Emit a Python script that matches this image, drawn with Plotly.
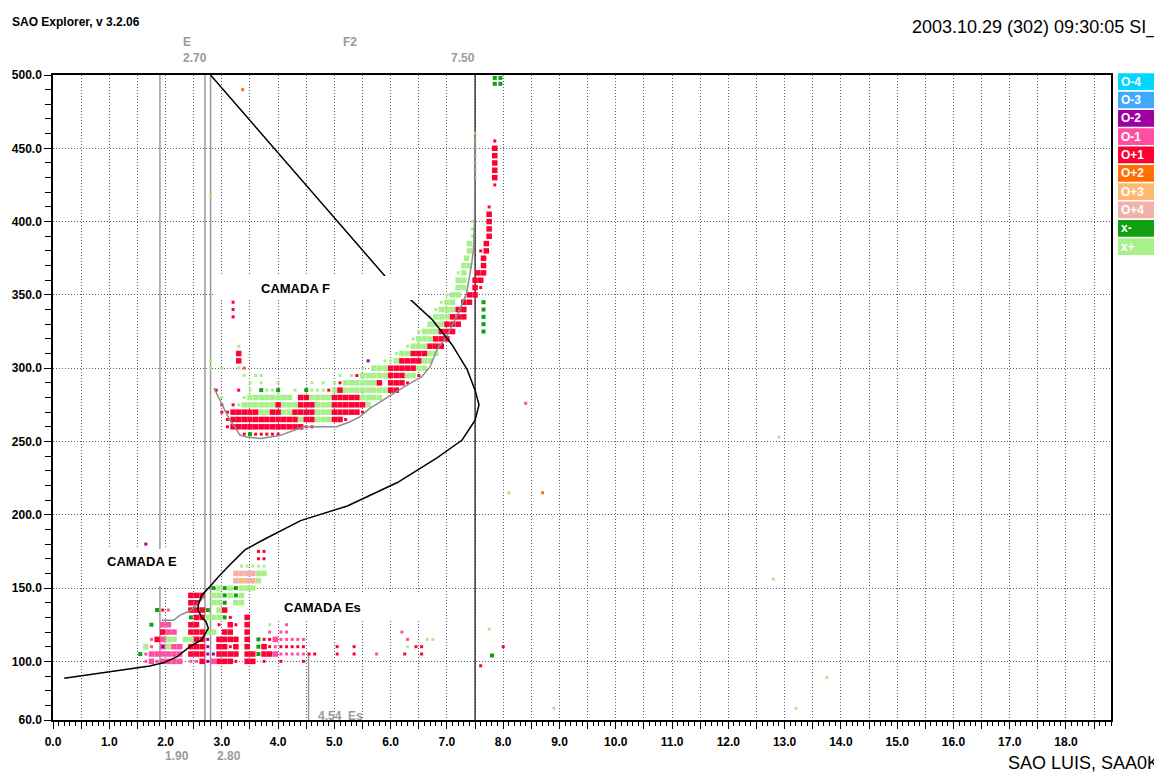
import plotly.graph_objects as go

# ---------------- axes / ticks ----------------
X_RANGE = [0.0, 18.8]
Y_RANGE = [60.0, 500.0]
X_LABELLED = [0.0, 1.0, 2.0, 3.0, 4.0, 5.0, 6.0, 7.0, 8.0, 9.0, 10.0, 11.0, 12.0, 13.0, 14.0, 15.0, 16.0, 17.0, 18.0]
X_HALVES = [0.5, 1.5, 2.5, 3.5, 4.5, 5.5, 6.5, 7.5, 8.5, 9.5, 10.5, 11.5, 12.5, 13.5, 14.5, 15.5, 16.5, 17.5, 18.5]
Y_TICKS = [60, 100, 150, 200, 250, 300, 350, 400, 450, 500]
Y_TICK_LABELS = ["60.0", "100.0", "150.0", "200.0", "250.0", "300.0", "350.0", "400.0", "450.0", "500.0"]

# ---------------- scaled parameters ----------------
GRAY_LINE_FREQS = [1.90, 2.70, 2.80]
BLACK_LINE_FREQS = [7.50]
MARK_FREQS = [1.90, 2.70, 2.80, 7.50]
ES_FREQ = 4.54
ES_LINE_TOP = 106

# ---------------- true-height profile (black) ----------------
PROFILE_F = [0.20, 1.00, 1.72, 1.96, 2.20, 2.43, 2.64, 2.76, 2.72, 2.64, 2.58, 2.58, 2.64, 2.79, 2.94, 3.14,
             3.41, 3.73, 4.00, 4.40, 5.23, 6.12, 6.83, 7.27, 7.50, 7.57, 7.50, 7.36, 7.09, 6.74, 6.29, 5.94, 2.80]
PROFILE_H = [88.5, 93.0, 96.8, 99.0, 103.0, 110.0, 114.6, 122.7, 127.0, 130.0, 135.0, 138.4, 145.0, 151.0, 157.7, 165.7,
             176.0, 182.8, 188.0, 196.0, 206.0, 222.0, 239.0, 251.0, 264.6, 275.0, 285.0, 299.0, 316.0, 333.0, 349.0, 361.0, 500.0]

# ---------------- scaled traces (gray) ----------------
FTRACE_F = [2.86, 2.97, 3.05, 3.14, 3.23, 3.32, 3.44, 3.69, 4.03, 4.45, 4.56, 5.04, 5.28, 5.45, 5.63, 6.04, 6.34,
            6.55, 6.70, 6.82, 6.99, 7.17, 7.35, 7.44, 7.47, 7.49, 7.50]
FTRACE_H = [286.5, 278.0, 271.5, 264.6, 260.0, 254.4, 253.0, 252.0, 254.0, 260.0, 260.0, 260.0, 263.5, 266.8, 272.6,
            282.7, 289.7, 294.0, 301.0, 312.4, 321.5, 335.0, 351.0, 371.5, 380.6, 401.0, 460.0]
ETRACE_F = [1.93, 2.14, 2.26, 2.46, 2.58, 2.70]
ETRACE_H = [128.0, 128.0, 131.6, 135.0, 139.6, 145.0]

# ---------------- echoes: (virtual height km, [frequencies MHz]) ----------------
RED_BIG = [
    (260, [3.2, 3.3, 3.4, 3.5, 3.6, 3.7, 3.8, 3.9, 4.0, 4.1, 4.2, 4.3, 4.4]),
    (265, [3.2, 3.3, 3.4, 3.5, 3.6, 3.7, 3.8, 3.9, 4.0, 4.1, 4.2, 4.3, 4.5, 4.6, 5.0, 5.1]),
    (270, [3.2, 3.3, 3.4, 3.5, 3.6, 3.9, 4.0, 4.3, 4.4, 4.5, 4.6, 5.0, 5.1, 5.2, 5.3, 5.4]),
    (275, [4.0, 4.4, 4.5, 4.6, 5.0, 5.1, 5.2, 5.3, 5.4, 5.5]),
    (280, [4.4, 4.5, 5.0, 5.1, 5.2, 5.3, 5.4]),
    (285, [5.1, 6.0, 6.1]),
    (290, [5.8, 6.0, 6.1, 6.2]),
    (295, [6.0, 6.1, 6.2]),
    (300, [6.0, 6.1, 6.2, 6.3, 6.4]),
    (305, [3.3, 6.2, 6.3, 6.4, 6.5]),
    (310, [3.3, 6.4, 6.5, 6.6]),
    (315, [6.7, 6.8, 6.9]),
    (320, [6.8, 6.9, 7.0]),
    (325, [6.9, 7.0, 7.1]),
    (330, [7.0, 7.1, 7.2]),
    (335, [7.1, 7.2, 7.3]),
    (340, [7.2, 7.3]),
    (345, [7.3, 7.4]),
    (350, [7.4, 7.5]),
    (355, [7.5]),
    (360, [7.5, 7.6]),
    (365, [7.55, 7.65]),
    (370, [7.65]),
    (375, [7.65]),
    (380, [7.7]),
    (385, [7.7]),
    (390, [7.75]),
    (395, [7.75]),
    (400, [7.75]),
    (405, [7.75]),
    (430, [7.85]), (435, [7.85]), (440, [7.85]), (445, [7.85]), (450, [7.85]),
    (100, [2.65, 2.95, 3.05, 3.15, 3.45, 3.55]),
    (105, [2.45, 2.55, 2.65, 2.95, 3.05, 3.15, 3.25, 3.45, 3.55, 3.75, 3.85]),
    (110, [2.45, 2.55, 2.65, 2.95, 3.05, 3.25, 3.45, 3.75]),
    (115, [1.85, 2.55, 2.65, 2.95, 3.05, 3.15, 3.25, 3.45]),
    (120, [1.95, 2.45, 2.55, 2.65, 3.05, 3.15, 3.45]),
    (125, [2.45, 2.55, 3.15, 3.45]),
    (130, [2.55, 2.65, 3.45]),
    (135, [2.45, 2.55, 2.65, 3.05]),
    (140, [2.45, 2.55]),
    (145, [2.45, 2.55, 2.65]),
]
RED_SMALL = [
    (255, [3.4, 3.6, 3.7, 3.8, 3.9, 4.0]),
    (260, [3.1, 4.5, 4.6]),
    (265, [3.1, 5.2]),
    (270, [3.0, 3.1, 5.5]),
    (275, [3.0, 3.2]),
    (285, [2.9, 3.3, 4.9]),
    (290, [5.1, 6.3]),
    (295, [5.4, 6.5]),
    (335, [3.2]), (340, [3.2]), (345, [3.2]),
    (355, [7.6]), (380, [7.6]), (410, [7.75]), (425, [7.85]), (455, [7.85]),
    (100, [3.25, 3.75, 4.05, 4.45]),
    (105, [4.55, 4.65, 5.05, 5.35, 6.25, 6.55]),
    (110, [3.15, 3.85, 4.05, 4.15, 4.25, 4.35, 4.45, 5.05, 5.35, 6.45, 6.55, 8.0]),
    (115, [3.75, 3.85]),
    (125, [2.95, 3.25]),
    (130, [3.15]),
    (135, [1.95]),
    (170, [3.65, 3.75]), (175, [3.65, 3.75]),
    (97, [7.6]),
]
LGREEN_BIG = [
    (265, [4.4, 4.7, 4.8, 4.9]),
    (270, [3.7, 3.8, 4.1, 4.2, 4.7, 4.8, 4.9]),
    (275, [3.4, 3.5, 3.6, 3.7, 3.8, 3.9, 4.1, 4.2, 4.3, 4.7, 4.8, 4.9, 5.6]),
    (280, [3.5, 3.6, 3.7, 3.8, 3.9, 4.0, 4.1, 4.2, 4.6, 4.7, 4.8, 4.9, 5.5, 5.6, 5.7, 5.8]),
    (285, [5.0, 5.2, 5.3, 5.4, 5.5, 5.6, 5.7, 5.8, 5.9]),
    (290, [5.2, 5.3, 5.4, 5.5, 5.6, 5.7]),
    (295, [5.5, 5.6, 5.7, 5.8, 5.9, 6.3, 6.4]),
    (300, [5.7, 5.8, 5.9, 6.5, 6.6]),
    (305, [6.1, 6.6, 6.7]),
    (310, [6.2, 6.3, 6.7, 6.8]),
    (315, [6.4, 6.5, 6.6]),
    (320, [6.5, 6.6, 6.7]),
    (325, [6.6, 6.7, 6.8]),
    (330, [6.7, 6.8, 6.9]),
    (335, [6.8, 6.9, 7.0]),
    (340, [6.9, 7.0, 7.1]),
    (345, [7.0, 7.1]),
    (350, [7.1, 7.2]),
    (355, [7.2, 7.3]),
    (360, [7.2, 7.3]),
    (365, [7.3]),
    (370, [7.3, 7.4]),
    (375, [7.35]),
    (380, [7.4]),
    (385, [7.4]),
    (110, [1.65, 2.05]),
    (115, [2.05, 2.15, 2.35, 2.45]),
    (120, [2.75, 2.85]),
    (130, [2.75, 2.85, 2.95]),
    (135, [2.95]),
    (140, [2.85, 2.95, 3.25, 3.35]),
    (145, [2.85, 2.95, 3.15, 3.35]),
    (150, [2.95, 3.15, 3.35, 3.45, 3.55]),
    (155, [3.65]),
    (160, [3.65, 3.75]),
]
LGREEN_SMALL = [
    (275, [3.3]),
    (280, [3.0, 3.4]),
    (285, [3.5, 3.8, 3.9, 4.3, 4.6, 4.7, 4.8]),
    (290, [3.5, 3.7, 4.0, 4.6, 4.8, 5.0]),
    (295, [3.4, 3.6, 3.7, 5.1, 5.3]),
    (300, [2.8, 3.0, 3.3, 5.5]),
    (305, [2.8, 5.9, 6.0]),
    (310, [6.1]),
    (315, [3.3, 6.3]),
    (320, [6.4]), (325, [6.5]), (335, [6.7]), (340, [6.8]), (345, [6.9]), (350, [7.0]), (365, [7.2]),
    (390, [7.45]), (395, [7.45]), (400, [7.45]),
    (430, [7.5]), (435, [7.5]), (440, [7.5]), (445, [7.5]), (450, [7.5]), (455, [7.5]), (460, [7.5]),
    (165, [3.35, 3.45, 3.55, 3.65, 3.75]),
    (110, [6.3]), (115, [6.65, 6.75]), (125, [3.85]), (122, [7.75]),
    (156, [12.8]), (89, [13.75]), (68, [13.2, 8.9]), (215, [8.1]), (253, [12.9]), (418, [2.8]),
]
DGREEN = [
    (255, [3.5]),
    (285, [3.7, 4.0, 4.5]),
    (325, [7.65]), (330, [7.65]), (335, [7.65]), (340, [7.65]), (345, [7.65]),
    (494, [7.85, 7.95]), (498, [7.85, 7.95]),
    (105, [1.55, 3.65]),
    (110, [3.65]),
    (115, [3.65]),
    (125, [1.75]),
    (130, [2.45, 3.05]),
    (135, [1.85, 2.75]),
    (140, [3.05]),
    (145, [3.05, 3.25]),
    (150, [2.85, 3.05, 3.25]),
    (104, [7.8]),
]
PINK_BIG = [
    (100, [1.75, 1.95, 2.05, 2.15, 2.25, 2.85]),
    (105, [1.75, 1.85, 1.95, 2.05, 2.15, 2.25, 3.95]),
    (110, [1.95, 2.15, 2.25]),
    (115, [1.95, 3.95]),
    (120, [2.05, 2.15]),
    (125, [1.95, 2.05]),
]
PINK_SMALL = [
    (100, [1.65, 1.85, 2.45, 2.55]),
    (105, [1.65, 4.05, 4.15, 4.25, 4.35, 4.45, 5.75]),
    (110, [1.75, 3.95]),
    (115, [1.75, 4.05, 4.15, 4.25, 4.35, 4.45, 6.3]),
    (120, [3.85, 4.05, 4.15, 6.2]),
    (125, [4.15]),
    (135, [2.05]),
    (276, [8.4]),
]
PURPLE = [
    (100, [2.75]), (105, [2.75, 2.85]), (110, [1.95, 2.75]), (115, [2.75]),
    (180, [1.65]), (305, [5.6]),
]
SALMON = [
    (155, [3.25, 3.45, 3.55]),
    (160, [3.25, 3.35, 3.45, 3.55]),
]
LORANGE = [(155, [3.35])]
ORANGE = [(300, [3.4]), (215, [8.7]), (490, [3.37])]

LEGEND_LABELS = ["O-4", "O-3", "O-2", "O-1", "O+1", "O+2", "O+3", "O+4", "x-", "x+"]
LEGEND_COLORS = ["#00D8FF", "#40A8FF", "#A000A0", "#FF4FA0", "#FF0033", "#FF7000",
                 "#FFB870", "#F2B2AA", "#10A010", "#A8F08C"]
C = dict(zip(LEGEND_LABELS, LEGEND_COLORS))

FONT = "Liberation Sans, Arial, sans-serif"
GRAY = "#9a9a9a"

# ---------------- layout geometry (pixels; page has an 8px body margin) ----------------
OFF = 8
W, H = 1162 - OFF, 774 - OFF
ML, MR, MT, MB = 53 - OFF, 51, 75 - OFF, 54
PW, PH = W - ML - MR, H - MT - MB


def px_x(px):
    return X_RANGE[0] + (px - OFF - ML) / PW * (X_RANGE[1] - X_RANGE[0])


def px_y(py):
    return Y_RANGE[0] + (H - MB - (py - OFF)) / PH * (Y_RANGE[1] - Y_RANGE[0])


def ppx(px):
    return (px - OFF - ML) / PW


def ppy(py):
    return (H - MB - (py - OFF)) / PH


def flat(rows):
    xs, ys = [], []
    for h, fs in rows:
        for f in fs:
            xs.append(f)
            ys.append(h)
    return xs, ys


fig = go.Figure()

# parameter lines
for f in GRAY_LINE_FREQS:
    fig.add_trace(go.Scatter(x=[f, f], y=Y_RANGE, mode="lines",
                             line=dict(color=GRAY, width=1.5), hoverinfo="skip", showlegend=False))
for f in BLACK_LINE_FREQS:
    fig.add_trace(go.Scatter(x=[f, f], y=Y_RANGE, mode="lines",
                             line=dict(color="#202020", width=1.3), hoverinfo="skip", showlegend=False))
fig.add_trace(go.Scatter(x=[ES_FREQ, ES_FREQ], y=[Y_RANGE[0], ES_LINE_TOP], mode="lines",
                         line=dict(color=GRAY, width=1.5), hoverinfo="skip", showlegend=False))

# echoes
series = [
    (LGREEN_BIG, C["x+"], 5.5), (LGREEN_SMALL, C["x+"], 3),
    (RED_BIG, C["O+1"], 5.5), (RED_SMALL, C["O+1"], 3),
    (PINK_BIG, C["O-1"], 5.5), (PINK_SMALL, C["O-1"], 3),
    (DGREEN, C["x-"], 4), (PURPLE, C["O-2"], 3),
    (SALMON, C["O+4"], 5.5), (LORANGE, C["O+3"], 5.5), (ORANGE, C["O+2"], 3),
]
for rows, col, sz in series:
    xs, ys = flat(rows)
    fig.add_trace(go.Scatter(x=xs, y=ys, mode="markers",
                             marker=dict(symbol="square", size=sz, color=col, line=dict(width=0)),
                             hoverinfo="skip", showlegend=False))

# traces and profile
fig.add_trace(go.Scatter(x=FTRACE_F, y=FTRACE_H, mode="lines", line=dict(color="#8c8c8c", width=1.5),
                         hoverinfo="skip", showlegend=False))
fig.add_trace(go.Scatter(x=ETRACE_F, y=ETRACE_H, mode="lines", line=dict(color="#8c8c8c", width=1.5),
                         hoverinfo="skip", showlegend=False))
fig.add_trace(go.Scatter(x=PROFILE_F, y=PROFILE_H, mode="lines", line=dict(color="black", width=1.5),
                         hoverinfo="skip", showlegend=False))

# end markers of parameter lines
fig.add_trace(go.Scatter(x=MARK_FREQS, y=[px_y(70)] * len(MARK_FREQS), mode="markers", cliponaxis=False,
                         marker=dict(symbol="square-open", size=7, color="#8a8a8a", line=dict(width=1)),
                         hoverinfo="skip", showlegend=False))
fig.add_trace(go.Scatter(x=MARK_FREQS, y=[px_y(725)] * len(MARK_FREQS), mode="markers", cliponaxis=False,
                         marker=dict(symbol="square-open", size=7, color="#8a8a8a", line=dict(width=1)),
                         hoverinfo="skip", showlegend=False))

shapes = []
# white boxes behind the layer labels
for (x0, x1, y0, y1) in [(214, 418, 276, 300), (98, 186, 549, 586), (258, 420, 592, 620)]:
    shapes.append(dict(type="rect", xref="x", yref="y", x0=px_x(x0), x1=px_x(x1), y0=px_y(y1), y1=px_y(y0),
                       fillcolor="white", line=dict(width=0), layer="above"))
# colour key on the right
for i, (lab, col) in enumerate(zip(LEGEND_LABELS, LEGEND_COLORS)):
    top = 73.3 + i * 18.33
    shapes.append(dict(type="rect", xref="paper", yref="paper", x0=ppx(1118), x1=ppx(1163),
                       y0=ppy(top + 16.7), y1=ppy(top), fillcolor=col, line=dict(width=0)))

ann = []
for i, lab in enumerate(LEGEND_LABELS):
    top = 73.3 + i * 18.33
    ann.append(dict(text=f"<b>{lab}</b>", xref="paper", yref="paper", x=ppx(1119), y=ppy(top + 8.3),
                    xanchor="left", yanchor="middle", showarrow=False,
                    font=dict(family=FONT, size=12, color="white")))

for txt, cx, cy in [("CAMADA F", 295, 288), ("CAMADA E", 141.5, 561), ("CAMADA Es", 322, 607)]:
    ann.append(dict(text=f"<b>{txt}</b>", xref="x", yref="y", x=px_x(cx), y=px_y(cy), showarrow=False,
                    xanchor="center", yanchor="middle", font=dict(family=FONT, size=13, color="black")))

for txt, cx, cy in [("E", 187, 42), ("2.70", 195, 58), ("F2", 350, 42), ("7.50", 463, 58),
                    ("1.90", 177, 756), ("2.80", 229, 756), ("4.54  Es", 340, 716)]:
    ann.append(dict(text=f"<b>{txt}</b>", xref="paper", yref="paper", x=ppx(cx), y=ppy(cy), showarrow=False,
                    xanchor="center", yanchor="middle", font=dict(family=FONT, size=12, color=GRAY)))

ann.append(dict(text="<b>SAO Explorer, v 3.2.06</b>", xref="paper", yref="paper", x=ppx(10), y=ppy(22),
                xanchor="left", yanchor="middle", showarrow=False, font=dict(family=FONT, size=12, color="black")))
ann.append(dict(text="2003.10.29 (302) 09:30:05 SI_", xref="paper", yref="paper", x=ppx(1159), y=ppy(28),
                xanchor="right", yanchor="middle", showarrow=False, font=dict(family=FONT, size=18, color="black")))
ann.append(dict(text="SAO LUIS, SAA0K", xref="paper", yref="paper", x=ppx(1161), y=ppy(763),
                xanchor="right", yanchor="middle", showarrow=False, font=dict(family=FONT, size=18, color="black")))

xt = sorted(X_LABELLED + X_HALVES)
xtext = [f"{v:.1f}" if v in X_LABELLED else "" for v in xt]

grid = dict(showgrid=True, gridcolor="#5a6080", gridwidth=1, griddash="1px,2px")
fig.update_layout(
    width=W, height=H, margin=dict(l=ML, r=MR, t=MT, b=MB, autoexpand=False),
    paper_bgcolor="white", plot_bgcolor="white", showlegend=False,
    shapes=shapes, annotations=ann,
    xaxis=dict(range=X_RANGE, tickmode="array", tickvals=xt, ticktext=xtext, ticks="outside", ticklen=7,
               tickcolor="black", showline=True, linecolor="black", linewidth=1.5, mirror=True,
               zeroline=False, ticklabelstandoff=3,
               tickfont=dict(family=FONT, size=12, color="black", weight="bold"),
               minor=dict(dtick=0.1, ticks="outside", ticklen=4, tickcolor="black", showgrid=False),
               **grid),
    yaxis=dict(range=Y_RANGE, tickmode="array", tickvals=Y_TICKS, ticktext=Y_TICK_LABELS, ticks="outside",
               ticklen=7, tickcolor="black", showline=True, linecolor="black", linewidth=1.5, mirror=True,
               zeroline=False,
               tickfont=dict(family=FONT, size=12, color="black", weight="bold"),
               minor=dict(dtick=10, ticks="outside", ticklen=6, tickcolor="black", showgrid=False),
               **grid),
)

fig.write_html("out.html")
